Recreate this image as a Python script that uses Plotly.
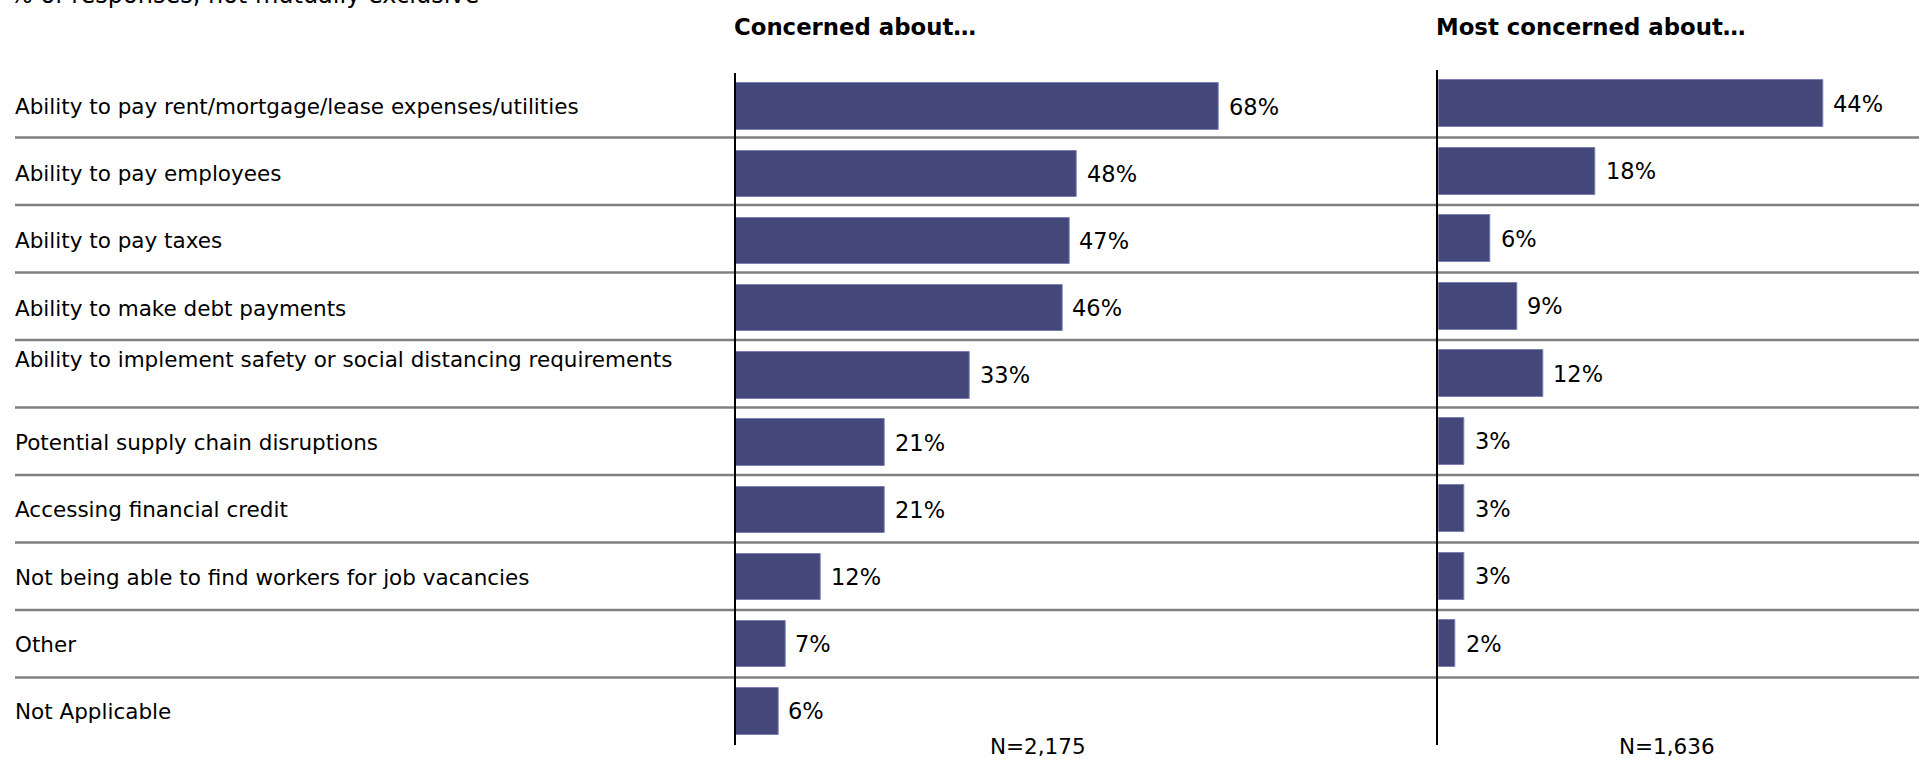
import plotly.graph_objects as go

# Survey items (top to bottom)
categories = [
    "Ability to pay rent/mortgage/lease expenses/utilities",
    "Ability to pay employees",
    "Ability to pay taxes",
    "Ability to make debt payments",
    "Ability to implement safety or social distancing requirements",
    "Potential supply chain disruptions",
    "Accessing financial credit",
    "Not being able to find workers for job vacancies",
    "Other",
    "Not Applicable",
]
concerned = [68, 48, 47, 46, 33, 21, 21, 12, 7, 6]
most_concerned = [44, 18, 6, 9, 12, 3, 3, 3, 2]

panel_titles = ["Concerned about…", "Most concerned about…"]
sample_sizes = ["N=2,175", "N=1,636"]
subtitle = "% of responses, not mutually exclusive"

W, H = 1919, 759
FONT = "DejaVu Sans"
BAR = "#434779"
BAR_EDGE = "#7c80b0"


def px_x(p):
    return p / W


def px_y(p):
    return 1 - p / H


fig = go.Figure()

fig.add_trace(go.Bar(
    x=concerned, y=categories, orientation="h",
    marker=dict(color=BAR, line=dict(color=BAR_EDGE, width=1)),
    width=0.69, xaxis="x", yaxis="y", hoverinfo="skip",
))
fig.add_trace(go.Bar(
    x=most_concerned, y=categories[:len(most_concerned)], orientation="h",
    marker=dict(color=BAR, line=dict(color=BAR_EDGE, width=1)),
    width=0.69, xaxis="x2", yaxis="y2", hoverinfo="skip",
))

left_x0, left_x1 = 735.7, 1400
right_x0, right_x1 = 1438.3, W
left_scale, right_scale = 7.1, 8.74  # pixels per percentage point

yaxis_common = dict(
    type="category", categoryorder="array", categoryarray=categories,
    range=[len(categories) - 0.5, -0.5], showticklabels=False,
    showgrid=False, zeroline=False, showline=True,
    linecolor="black", linewidth=2, ticks="",
)
xaxis_common = dict(visible=False, showgrid=False, zeroline=False)

fig.update_layout(
    width=W, height=H,
    margin=dict(l=0, r=0, t=0, b=0),
    paper_bgcolor="white", plot_bgcolor="rgba(0,0,0,0)",
    showlegend=False, bargap=0,
    font=dict(family=FONT, color="black"),
    xaxis=dict(domain=[px_x(left_x0), px_x(left_x1)],
               range=[0, (left_x1 - left_x0) / left_scale], anchor="y", **xaxis_common),
    yaxis=dict(domain=[px_y(745), px_y(73)], anchor="x", **yaxis_common),
    xaxis2=dict(domain=[px_x(right_x0), 1],
                range=[0, (right_x1 - right_x0) / right_scale], anchor="y2", **xaxis_common),
    yaxis2=dict(domain=[px_y(745), px_y(70)], anchor="x2", **yaxis_common),
)

# Row separators across the full width
for i in range(len(categories) - 1):
    fig.add_shape(type="line", xref="paper", yref="y2",
                  x0=px_x(15), x1=1, y0=i + 0.5, y1=i + 0.5,
                  line=dict(color="#808080", width=2.5), layer="below")

annotations = []

# Category labels
for i, cat in enumerate(categories):
    annotations.append(dict(
        xref="paper", yref="y", x=px_x(13), y=cat, text=cat,
        xanchor="left", yanchor="middle", showarrow=False,
        yshift=16 if i == 4 else 0,
        font=dict(size=21.5, family=FONT, color="black"),
    ))

# Value labels
for cat, v in zip(categories, concerned):
    annotations.append(dict(
        xref="x", yref="y", x=v, y=cat, text=f"{v}%",
        xanchor="left", yanchor="middle", xshift=8, showarrow=False,
        font=dict(size=22.5, family=FONT, color="black"),
    ))
for cat, v in zip(categories, most_concerned):
    annotations.append(dict(
        xref="x2", yref="y2", x=v, y=cat, text=f"{v}%",
        xanchor="left", yanchor="middle", xshift=8, showarrow=False,
        font=dict(size=22.5, family=FONT, color="black"),
    ))

# Panel headings
for x0, title in zip([left_x0 - 4, right_x0 - 4], panel_titles):
    annotations.append(dict(
        xref="paper", yref="paper", x=px_x(x0), y=px_y(27), text=f"<b>{title}</b>",
        xanchor="left", yanchor="middle", showarrow=False,
        font=dict(size=22.8, family=FONT, color="black"),
    ))

# Sample sizes
for xc, n in zip([1038, 1667], sample_sizes):
    annotations.append(dict(
        xref="paper", yref="paper", x=px_x(xc), y=px_y(746), text=n,
        xanchor="center", yanchor="middle", showarrow=False,
        font=dict(size=21.5, family=FONT, color="black"),
    ))

# Subtitle partially above the top edge
annotations.append(dict(
    xref="paper", yref="paper", x=px_x(8), y=px_y(-5), text=subtitle,
    xanchor="left", yanchor="middle", showarrow=False,
    font=dict(size=24, family=FONT, color="black"),
))

fig.update_layout(annotations=annotations)
fig.write_html("out.html")
